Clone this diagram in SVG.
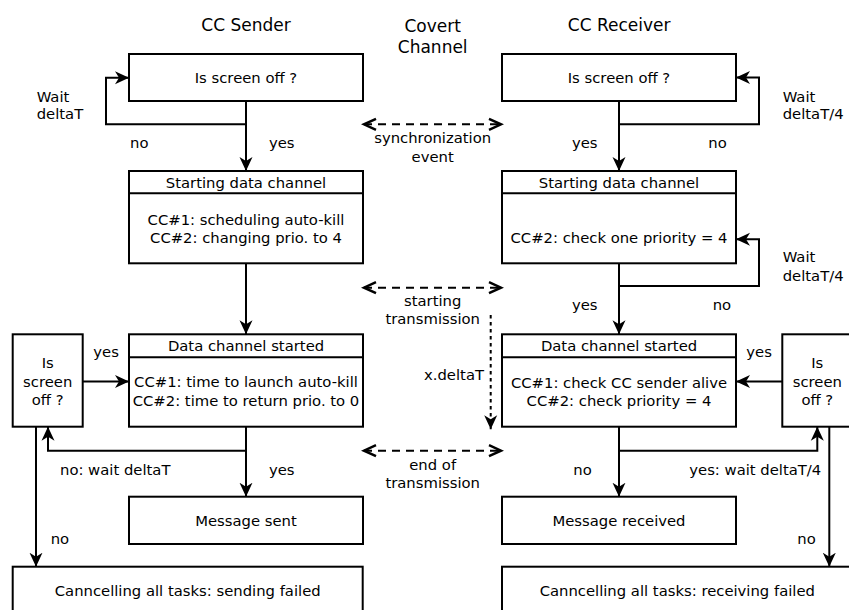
<svg xmlns="http://www.w3.org/2000/svg" width="849" height="610" viewBox="0 0 849 610">
<defs>
<style>
text{font-family:"DejaVu Sans","Liberation Sans",sans-serif;font-size:14.8px;fill:#000}
.title{font-size:17px}
.m{text-anchor:middle}
.box{fill:#fff;stroke:#000;stroke-width:2}
.hd{stroke:#000;stroke-width:2}
.c{fill:none;stroke:#000;stroke-width:2;marker-end:url(#ah)}
.d{fill:none;stroke:#000;stroke-width:2;stroke-dasharray:8,6;marker-start:url(#ch);marker-end:url(#ch)}
.dot{fill:none;stroke:#000;stroke-width:2;stroke-dasharray:3.5,3.5;marker-end:url(#ah)}
</style>
<marker id="ah" viewBox="0 0 14 14" refX="14" refY="7" markerWidth="14" markerHeight="14" markerUnits="userSpaceOnUse" orient="auto">
<path d="M14,7 L0,0.5 L4,7 L0,13.5 Z" fill="#000" stroke="none"/>
</marker>
<marker id="ch" viewBox="-15 -8 18 16" refX="0" refY="0" markerWidth="18" markerHeight="16" markerUnits="userSpaceOnUse" orient="auto-start-reverse">
<path d="M-12,-5.5 L0,0 L-12,5.5" fill="none" stroke="#000" stroke-width="2.5" stroke-dasharray="none"/>
</marker>
</defs>
<rect width="849" height="610" fill="#fff"/>

<g id="titles">
<text class="title m" x="246" y="31">CC Sender</text>
<text class="title m" x="432.7" y="31.5">Covert</text>
<text class="title m" x="432.7" y="52.5">Channel</text>
<text class="title m" x="619.2" y="31">CC Receiver</text>
</g>

<g id="s_check">
<rect class="box" x="129" y="54" width="234" height="47"/>
<text class="m" x="246" y="83.3">Is screen off ?</text>
</g>
<g id="s_start">
<rect class="box" x="129" y="171" width="234" height="92.3"/>
<line class="hd" x1="129" y1="193.3" x2="363" y2="193.3"/>
<text class="m" x="246" y="187.5">Starting data channel</text>
<text class="m" x="246" y="225">CC#1: scheduling auto-kill</text>
<text class="m" x="246" y="243.3">CC#2: changing prio. to 4</text>
</g>
<g id="s_started">
<rect class="box" x="129" y="334.3" width="234" height="92.4"/>
<line class="hd" x1="129" y1="357.3" x2="363" y2="357.3"/>
<text class="m" x="246" y="351">Data channel started</text>
<text class="m" x="246" y="387.3">CC#1: time to launch auto-kill</text>
<text class="m" x="246" y="405.5">CC#2: time to return prio. to 0</text>
</g>
<g id="s_screen">
<rect class="box" x="12.7" y="334.3" width="70" height="92.4"/>
<text class="m" x="47.7" y="368">Is</text>
<text class="m" x="47.7" y="386.5">screen</text>
<text class="m" x="47.7" y="405">off ?</text>
</g>
<g id="s_sent">
<rect class="box" x="129" y="496.7" width="234" height="47.3"/>
<text class="m" x="246" y="526">Message sent</text>
</g>
<g id="s_fail">
<rect class="box" x="12.7" y="566.7" width="350" height="60"/>
<text class="m" x="187.7" y="596">Canncelling all tasks: sending failed</text>
</g>

<g id="r_check">
<rect class="box" x="502" y="54" width="234" height="47"/>
<text class="m" x="619" y="83.3">Is screen off ?</text>
</g>
<g id="r_start">
<rect class="box" x="502" y="171" width="234" height="92.3"/>
<line class="hd" x1="502" y1="193.3" x2="736" y2="193.3"/>
<text class="m" x="619" y="187.5">Starting data channel</text>
<text class="m" x="619" y="243.3">CC#2: check one priority = 4</text>
</g>
<g id="r_started">
<rect class="box" x="502" y="334.3" width="234" height="92.4"/>
<line class="hd" x1="502" y1="357.3" x2="736" y2="357.3"/>
<text class="m" x="619" y="351">Data channel started</text>
<text class="m" x="619" y="387.8">CC#1: check CC sender alive</text>
<text class="m" x="619" y="406">CC#2: check priority = 4</text>
</g>
<g id="r_screen">
<rect class="box" x="782.3" y="334.3" width="70" height="92.4"/>
<text class="m" x="817.3" y="368">Is</text>
<text class="m" x="817.3" y="386.5">screen</text>
<text class="m" x="817.3" y="405">off ?</text>
</g>
<g id="r_recv">
<rect class="box" x="502" y="496.7" width="234" height="47.3"/>
<text class="m" x="619" y="526">Message received</text>
</g>
<g id="r_fail">
<rect class="box" x="502" y="566.7" width="350.7" height="60"/>
<text class="m" x="677.3" y="596">Canncelling all tasks: receiving failed</text>
</g>

<g id="connectors">
<path class="c" d="M246,101 V171"/>
<path class="c" d="M246,124.3 H106 V77.7 H129"/>
<path class="c" d="M246,263.3 V334.3"/>
<path class="c" d="M82.7,381.5 H129"/>
<path class="c" d="M246,426.7 V496.7"/>
<path class="c" d="M246,450.7 H48 V426.7"/>
<path class="c" d="M36,426.7 V566.7"/>

<path class="c" d="M619,101 V171"/>
<path class="c" d="M619,124.3 H759 V77.5 H736"/>
<path class="c" d="M619,263.3 V334.3"/>
<path class="c" d="M619,286 H759 V239.3 H736"/>
<path class="c" d="M782.3,381.5 H736"/>
<path class="c" d="M619,426.7 V496.7"/>
<path class="c" d="M619,450.7 H817.3 V426.7"/>
<path class="c" d="M829.3,426.7 V566.7"/>

<path class="d" d="M364,124.3 H501"/>
<path class="d" d="M364,287.7 H501"/>
<path class="d" d="M364,450.7 H501"/>
<path class="dot" d="M490.7,315 V429.3"/>
</g>

<g id="labels">
<text x="36.7" y="101.7">Wait</text>
<text x="36.7" y="119.3">deltaT</text>
<text x="130" y="147.7">no</text>
<text x="269" y="147.7">yes</text>
<text x="93.3" y="356.7">yes</text>
<text x="60" y="475">no: wait deltaT</text>
<text x="269" y="475">yes</text>
<text x="50.7" y="544">no</text>

<text x="782.7" y="101.7">Wait</text>
<text x="782.7" y="119.3">deltaT/4</text>
<text x="572" y="147.7">yes</text>
<text x="708.3" y="147.7">no</text>
<text x="782.7" y="261.7">Wait</text>
<text x="782.7" y="281">deltaT/4</text>
<text x="572" y="310">yes</text>
<text x="712.7" y="310">no</text>
<text x="746.3" y="357">yes</text>
<text x="573.3" y="475">no</text>
<text x="689.3" y="475">yes: wait deltaT/4</text>
<text x="797.3" y="544">no</text>

<text class="m" x="432.7" y="143">synchronization</text>
<text class="m" x="432.7" y="162">event</text>
<text class="m" x="432.7" y="306">starting</text>
<text class="m" x="432.7" y="324">transmission</text>
<text x="484" y="380" text-anchor="end">x.deltaT</text>
<text class="m" x="432.7" y="470">end of</text>
<text class="m" x="432.7" y="488.3">transmission</text>
</g>
</svg>
